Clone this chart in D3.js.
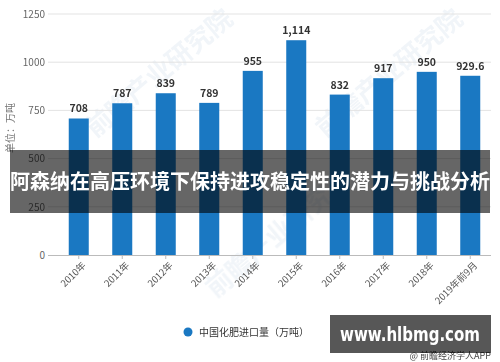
<!DOCTYPE html>
<html><head><meta charset="utf-8">
<script src="https://cdn.jsdelivr.net/npm/d3@7"></script>
<style>body{margin:0;background:#fff}svg{display:block}</style>
</head><body>
<script>
const categories = ["2010年","2011年","2012年","2013年","2014年","2015年","2016年","2017年","2018年","2019年前9月"];
const values = [708, 787, 839, 789, 955, 1114, 832, 917, 950, 929.6];
const valueLabels = ["708","787","839","789","955","1,114","832","917","950","929.6"];
const yTicks = [0, 250, 500, 750, 1000, 1250];
const seriesName = "中国化肥进口量（万吨）";
const unitLabel = "单位：万吨";
const bannerText = "阿森纳在高压环境下保持进攻稳定性的潜力与挑战分析";
const siteText = "www.hlbmg.com";
const sourceText = "@ 前瞻经济学人APP";

const W = 500, H = 362;
const font = "'Noto Sans CJK SC','Noto Sans',sans-serif";
const svg = d3.select("body").append("svg").attr("width", W).attr("height", H).style("font-family", font);

const y = d3.scaleLinear().domain([0, 1250]).range([255, 14]);
const x = d3.scaleBand().domain(categories).range([57, 492]).paddingInner(0.54).paddingOuter(0.27);

// watermark
const wm = svg.append("g").attr("fill", "#e6edf4").attr("opacity", 0.55).style("font-weight", "bold");
[[165, 80], [395, 80], [285, 240]].forEach(([cx, cy]) => {
  wm.append("text").attr("transform", `translate(${cx},${cy}) rotate(-40)`).attr("text-anchor", "middle")
    .attr("font-size", 26).text("前瞻产业研究院");
});

// gridlines
svg.append("g").selectAll("line").data(yTicks.slice(1)).join("line")
  .attr("x1", 48).attr("x2", 491).attr("y1", d => y(d)).attr("y2", d => y(d))
  .attr("stroke", "#e3e3e3").attr("stroke-width", 1);

// y axis labels
const yAxis = d3.axisLeft(y).tickValues(yTicks).tickFormat(d3.format("d")).tickSize(0).tickPadding(0);
const gy = svg.append("g").attr("transform", "translate(45,0)").call(yAxis);
gy.select(".domain").remove();
gy.selectAll("text").attr("fill", "#666").attr("font-size", 10).attr("font-family", font);

// bars
svg.append("g").selectAll("rect").data(values).join("rect")
  .attr("x", (d, i) => x(categories[i])).attr("width", x.bandwidth())
  .attr("y", d => y(d)).attr("height", d => y(0) - y(d))
  .attr("fill", "#1a78c2");

// value labels
svg.append("g").selectAll("text").data(values).join("text")
  .attr("x", (d, i) => x(categories[i]) + x.bandwidth() / 2)
  .attr("y", d => y(d) - 6).attr("text-anchor", "middle")
  .attr("font-size", 10.5).attr("font-weight", "bold").attr("fill", "#333")
  .text((d, i) => valueLabels[i]);

// x axis
const xAxis = d3.axisBottom(x).tickSize(4).tickSizeOuter(0);
const gx = svg.append("g").attr("transform", `translate(0,${y(0)})`).call(xAxis);
gx.select(".domain").attr("d", "M48,0.5H491").attr("stroke", "#bbb");
gx.selectAll(".tick line").attr("stroke", "#bbb");
gx.selectAll("text").attr("font-size", 9.5).attr("fill", "#555").attr("font-family", font)
  .attr("text-anchor", "end").attr("dx", "0.2em").attr("dy", "0.2em")
  .attr("transform", "translate(0,6) rotate(-45)");

// unit label
svg.append("text").attr("transform", "translate(14,128) rotate(-90)").attr("text-anchor", "middle")
  .attr("font-size", 10).attr("fill", "#777").text(unitLabel);

// banner
svg.append("rect").attr("x", 10).attr("y", 150).attr("width", 480).attr("height", 63).attr("fill", "rgba(0,0,0,0.6)");
svg.append("text").attr("x", 250).attr("y", 189).attr("text-anchor", "middle")
  .attr("font-size", 20).attr("font-weight", "bold").attr("fill", "#fff").text(bannerText);

// legend
svg.append("circle").attr("cx", 188).attr("cy", 332).attr("r", 4.5).attr("fill", "#1a78c2");
svg.append("text").attr("x", 199).attr("y", 336).attr("font-size", 10).attr("fill", "#333").text(seriesName);

// source
svg.append("text").attr("x", 491).attr("y", 359).attr("text-anchor", "end")
  .attr("font-size", 9).attr("fill", "#444").text(sourceText);

// site box
svg.append("rect").attr("x", 330).attr("y", 315).attr("width", 161).attr("height", 38).attr("fill", "rgba(0,0,0,0.66)");
svg.append("text").attr("x", 410).attr("y", 341).attr("text-anchor", "middle")
  .attr("font-size", 19).attr("font-weight", "bold").attr("fill", "#fff")
  .attr("textLength", 140).attr("lengthAdjust", "spacingAndGlyphs")
  .attr("font-family", "'DejaVu Sans','Noto Sans',sans-serif").text(siteText);
</script>
</body></html>
